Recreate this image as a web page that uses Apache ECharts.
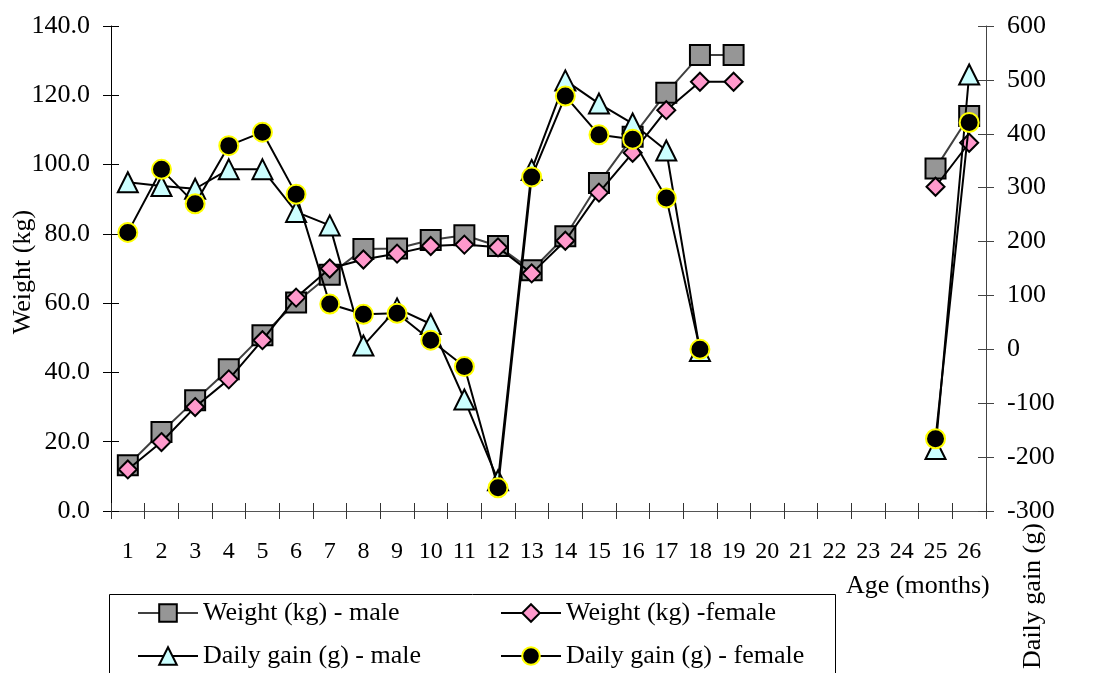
<!DOCTYPE html>
<html>
<head>
<meta charset="utf-8">
<script src="https://cdn.jsdelivr.net/npm/echarts@6/dist/echarts.min.js"></script>
<style>
html,body{margin:0;padding:0;background:#fff;}
#main{width:1099px;height:673px;}
</style>
</head>
<body>
<div id="main"></div>
<script>
const ages = ['1','2','3','4','5','6','7','8','9','10','11','12','13','14','15','16','17','18','19','20','21','22','23','24','25','26'];
const weightMale = [13.2,22.8,32.0,40.9,50.7,60.2,68.2,75.6,75.8,78.2,79.6,76.5,69.5,79.3,94.7,108.0,120.7,131.6,131.6,null,null,null,null,null,98.9,114.0];
const weightFemale = [12.0,19.9,30.0,38.0,49.3,61.6,70.0,72.6,74.3,76.5,76.9,76.1,68.6,78.0,91.9,103.4,115.7,123.9,123.9,null,null,null,null,null,93.6,106.3];
const gainMale = [310,303,298,334,334,255,230,7,76,47,-93,-243,333,499,456,419,369,-3,null,null,null,null,null,null,-185,510];
const gainFemale = [217,334,270,378,403,288,84,65,67,17,-32,-257,320,470,398,390,281,0,null,null,null,null,null,null,-166,421];
const leftTicks = {min:0, max:140, interval:20};
const rightTicks = {min:-300, max:600, interval:100};

const FONT = "'Liberation Serif','Times New Roman',serif";
const FONT26 = "26px 'Liberation Serif','Times New Roman',serif";
const chart = echarts.init(document.getElementById('main'), null, {renderer:'canvas'});

const baseY = (side, t, inside, withLabels, lineColor) => ({
  type:'value', position:side, min:t.min, max:t.max, interval:t.interval,
  splitLine:{show:false},
  axisLine:{show:withLabels, onZero:false, lineStyle:{color:lineColor, width:1}},
  axisTick:{show:true, inside:inside, length:8, lineStyle:{color:lineColor, width:1}},
  axisLabel:{show:withLabels, margin:21, fontFamily:FONT, fontSize:26, color:'#000',
    formatter: side==='left' ? (v)=>v.toFixed(1) : (v)=>String(v)}
});

const legendItem = (name, left, top) => ({
  orient:'horizontal', left:left, top:top, padding:0, itemWidth:60, itemHeight:22,
  textStyle:{fontFamily:FONT, fontSize:26, color:'#000'}, data:[name]
});

const option = {
  animation:false,
  backgroundColor:'#fff',
  grid:{left:111, right:113, top:26, bottom:162, containLabel:false, outerBoundsMode:'none'},
  xAxis:[
    {type:'category', data:ages, position:'bottom', boundaryGap:true,
     axisLine:{show:true, onZero:false, lineStyle:{color:'#555', width:1}},
     axisTick:{show:true, inside:false, length:8, alignWithLabel:false, lineStyle:{color:'#333'}},
     axisLabel:{show:true, interval:0, margin:29, fontFamily:FONT, fontSize:24, color:'#000'},
     splitLine:{show:false}},
    {type:'category', data:ages, position:'bottom', boundaryGap:true,
     axisLine:{show:false, onZero:false},
     axisTick:{show:true, inside:true, length:8, lineStyle:{color:'#333'}},
     axisLabel:{show:false}, splitLine:{show:false}}
  ],
  yAxis:[
    baseY('left', leftTicks, false, true, '#000'),
    baseY('right', rightTicks, false, true, '#444'),
    baseY('left', leftTicks, true, false, '#000'),
    baseY('right', rightTicks, true, false, '#444')
  ],
  legend:[
    legendItem('Weight (kg) - male', 137, 600),
    legendItem('Daily gain (g) - male', 137, 643),
    legendItem('Weight (kg) -female', 500, 600),
    legendItem('Daily gain (g) - female', 500, 643)
  ],
  graphic:[
    {type:'rect', left:107, top:592, shape:{width:726, height:120},
     style:{fill:'none', stroke:'#000', lineWidth:1}, silent:true},
    {type:'text', left:846, top:573,
     style:{text:'Age (months)', font:FONT26, fill:'#000'}},
    {type:'text', x:1033, y:596, rotation:Math.PI/2,
     style:{text:'Daily gain (g)', font:FONT26, fill:'#000', align:'center', verticalAlign:'middle'}},
    {type:'text', x:23, y:272, rotation:Math.PI/2,
     style:{text:'Weight (kg)', font:FONT26, fill:'#000', align:'center', verticalAlign:'middle'}}
  ],
  series:[
    {name:'Weight (kg) - male', type:'line', xAxisIndex:0, yAxisIndex:0, data:weightMale,
     symbol:'rect', symbolSize:20, connectNulls:false,
     lineStyle:{color:'#404040', width:2},
     itemStyle:{color:'#969696', borderColor:'#000', borderWidth:2}, z:2},
    {name:'Weight (kg) -female', type:'line', xAxisIndex:0, yAxisIndex:0, data:weightFemale,
     symbol:'diamond', symbolSize:18, connectNulls:false,
     lineStyle:{color:'#000', width:2},
     itemStyle:{color:'#FF99CC', borderColor:'#000', borderWidth:2}, z:3},
    {name:'Daily gain (g) - male', type:'line', xAxisIndex:0, yAxisIndex:1, data:gainMale,
     symbol:'triangle', symbolSize:20, connectNulls:false,
     lineStyle:{color:'#000', width:2},
     itemStyle:{color:'#CCFFFF', borderColor:'#000', borderWidth:2}, z:4},
    {name:'Daily gain (g) - female', type:'line', xAxisIndex:0, yAxisIndex:1, data:gainFemale,
     symbol:'circle', symbolSize:19, connectNulls:false,
     lineStyle:{color:'#000', width:2},
     itemStyle:{color:'#000', borderColor:'#FFFF00', borderWidth:2}, z:5}
  ]
};
chart.setOption(option);
</script>
</body>
</html>
